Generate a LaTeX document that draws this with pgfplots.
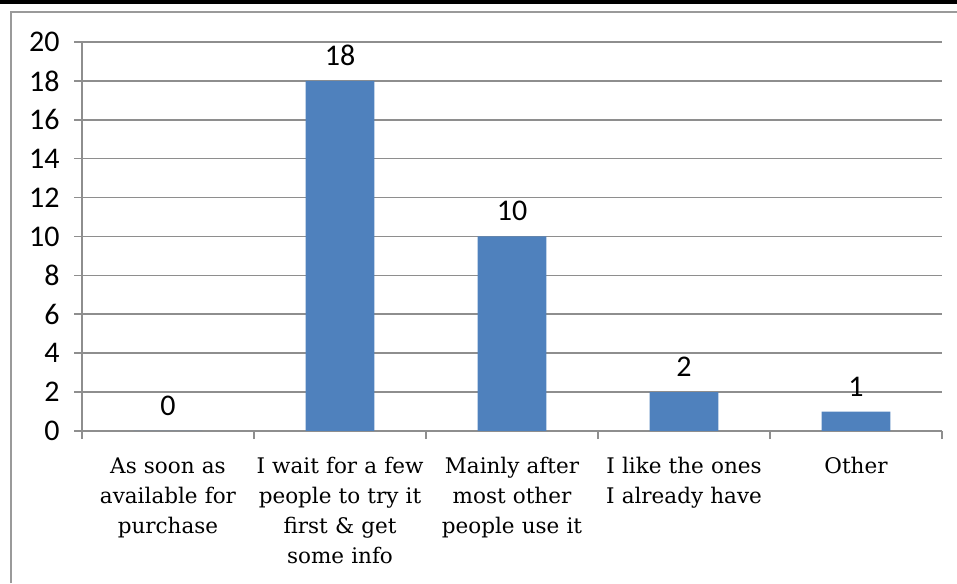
\documentclass[border=0pt]{standalone}
\usepackage{pgfplots}
\pgfplotsset{compat=1.18}
\usepackage{fontspec}
\setmainfont{DejaVu Serif}
\newfontfamily\numfont{Carlito}
\definecolor{barblue}{HTML}{4F81BD}
\definecolor{gridgray}{HTML}{8E8E8E}
\definecolor{framegray}{HTML}{9A9A9A}

\begin{document}
\begin{tikzpicture}
  % page area and surrounding frame
  \path[use as bounding box] (0pt,0pt) rectangle (957pt,583pt);
  \fill[black] (0pt,579pt) rectangle (957pt,583pt);
  \draw[framegray, line width=2pt] (10.5pt,0pt) -- (10.5pt,571pt) -- (957pt,571pt);

  \begin{axis}[
    at={(82pt,152pt)}, anchor=south west,
    scale only axis, width=860pt, height=389pt,
    xmin=-0.5, xmax=4.5, ymin=0, ymax=20,
    ybar, bar width=0.4,
    bar shift=0pt,
    axis line style={gridgray, line width=1.6pt},
    axis x line*=bottom, axis y line*=left,
    ytick={0,2,...,20},
    ymajorgrids, grid style={gridgray, line width=1.6pt},
    xtick={0,1,2,3,4},
    xticklabels={
      {As soon as\\available for\\purchase},
      {I wait for a few\\people to try it\\first \& get\\some info},
      {Mainly after\\most other\\people use it},
      {I like the ones\\I already have},
      {Other}},
    minor xtick={-0.5,0.5,1.5,2.5,3.5,4.5},
    major x tick style={draw=none},
    minor x tick style={gridgray, line width=1.6pt},
    minor tick length=8pt,
    major tick length=8pt,
    tick align=outside,
    ytick style={gridgray, line width=1.6pt},
    /pgf/number format/assume math mode=true,
    yticklabel style={font=\numfont\fontsize{30}{30}\selectfont, anchor=east, xshift=-11pt},
    xticklabel style={font=\fontsize{21.5}{30}\selectfont, align=center, text width=175pt, yshift=-15pt},
    nodes near coords,
    every node near coord/.append style={font=\numfont\fontsize{30}{30}\selectfont, black, yshift=12pt},
  ]
    \addplot[fill=barblue, draw=none] coordinates {(0,0) (1,18) (2,10) (3,2) (4,1)};
  \end{axis}
\end{tikzpicture}
\end{document}
